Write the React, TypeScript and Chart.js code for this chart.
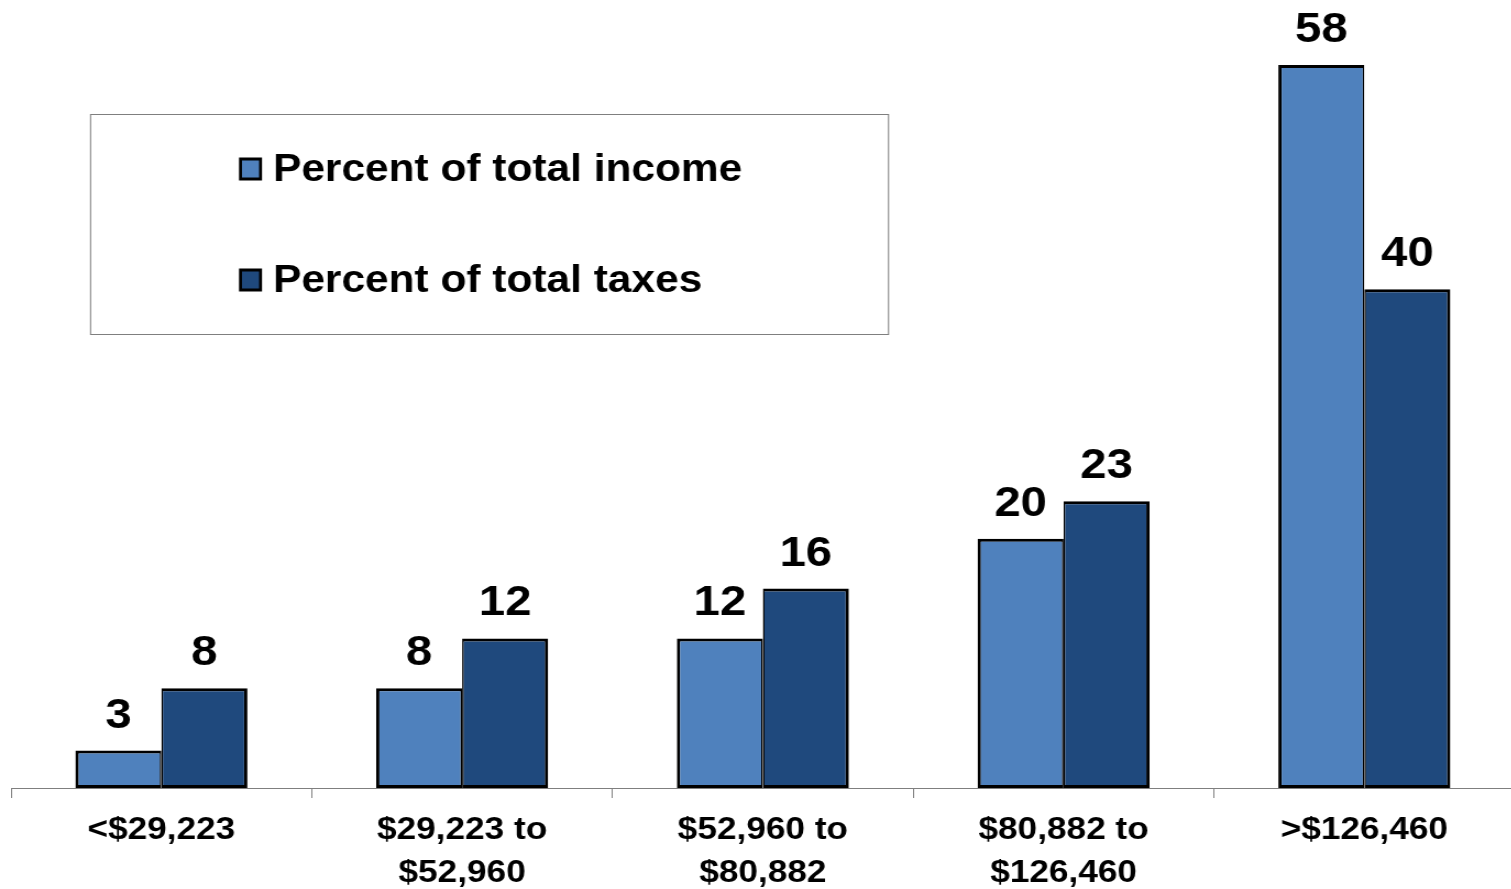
import React, { useEffect, useRef } from "react";
import { Chart, registerables } from "chart.js";

Chart.register(...registerables);

const categories: string[][] = [
  ["<$29,223"],
  ["$29,223 to", "$52,960"],
  ["$52,960 to", "$80,882"],
  ["$80,882 to", "$126,460"],
  [">$126,460"],
];
const incomeShare = [3, 8, 12, 20, 58];
const taxShare = [8, 12, 16, 23, 40];
const seriesNames = ["Percent of total income", "Percent of total taxes"];
const seriesColors = ["#4F81BD", "#1F497D"];

const FONT = "'Liberation Sans', Arial, sans-serif";
const SX = 1.1; // horizontal stretch of the original rendering
const CANVAS_W = 1390;
const CANVAS_H = 889;

const overlayPlugin = {
  id: "overlay",
  afterDatasetsDraw(chart: any) {
    const ctx = chart.ctx as CanvasRenderingContext2D;
    ctx.save();
    // value labels
    ctx.fillStyle = "#000";
    ctx.font = `bold 43px ${FONT}`;
    ctx.textAlign = "center";
    ctx.textBaseline = "alphabetic";
    chart.data.datasets.forEach((ds: any, di: number) => {
      const meta = chart.getDatasetMeta(di);
      meta.data.forEach((el: any, i: number) => {
        ctx.fillText(String(ds.data[i]), el.x, el.y - 23);
      });
    });
    // legend box
    const bx = 90 / SX;
    const bw = (888 - 90) / SX;
    const by = 114;
    const bh = 220;
    ctx.strokeStyle = "#7f7f7f";
    ctx.lineWidth = 1;
    ctx.strokeRect(bx + 0.5, by + 0.5, bw, bh);
    const rows = [169, 280];
    chart.data.datasets.forEach((ds: any, di: number) => {
      const cy = rows[di];
      const sx = 239 / SX;
      const sw = 23 / SX;
      const sh = 23;
      ctx.fillStyle = "#000";
      ctx.fillRect(sx, cy - sh / 2, sw, sh);
      ctx.fillStyle = ds.backgroundColor;
      ctx.fillRect(sx + 2.7, cy - sh / 2 + 3, sw - 5.4, sh - 6);
      ctx.fillStyle = "#000";
      ctx.font = `bold 38.6px ${FONT}`;
      ctx.textAlign = "left";
      ctx.textBaseline = "middle";
      ctx.fillText(ds.label, 273 / SX, cy + 1);
    });
    ctx.restore();
  },
};

export default function App() {
  const ref = useRef<HTMLCanvasElement | null>(null);

  useEffect(() => {
    if (!ref.current) return;
    const chart = new Chart(ref.current, {
      type: "bar",
      data: {
        labels: categories,
        datasets: [
          {
            label: seriesNames[0],
            data: incomeShare,
            backgroundColor: seriesColors[0],
            borderColor: "#000",
            borderWidth: { top: 3, left: 3, bottom: 3, right: 1.5 },
            borderSkipped: false,
            categoryPercentage: 0.572,
            barPercentage: 1,
          },
          {
            label: seriesNames[1],
            data: taxShare,
            backgroundColor: seriesColors[1],
            borderColor: "#000",
            borderWidth: { top: 3, left: 1.5, bottom: 3, right: 3 },
            borderSkipped: false,
            categoryPercentage: 0.572,
            barPercentage: 1,
          },
        ],
      },
      options: {
        responsive: false,
        maintainAspectRatio: false,
        animation: false,
        layout: { padding: { left: 10, right: 13, top: 40, bottom: 0 } },
        plugins: {
          legend: { display: false },
          tooltip: { enabled: false },
        },
        scales: {
          x: {
            offset: true,
            grid: {
              display: true,
              drawOnChartArea: false,
              drawTicks: true,
              tickLength: 10,
              color: "#7f7f7f",
              lineWidth: 1,
              offset: true,
            },
            border: { display: true, color: "#7f7f7f", width: 1 },
            ticks: {
              color: "#000",
              font: { family: FONT, size: 32, weight: "bold", lineHeight: 42.5 / 32 },
              padding: 11,
              maxRotation: 0,
              minRotation: 0,
              autoSkip: false,
            },
            afterFit: (s: any) => {
              s.height = 101;
            },
          },
          y: {
            display: false,
            min: 0,
            max: 60,
          },
        },
      },
      plugins: [overlayPlugin],
    } as any);
    return () => chart.destroy();
  }, []);

  return (
    <div
      style={{
        position: "fixed",
        left: 0,
        top: 0,
        width: 1511,
        height: 889,
        overflow: "hidden",
        background: "#fff",
      }}
    >
      <canvas
        ref={ref}
        width={CANVAS_W}
        height={CANVAS_H}
        style={{
          display: "block",
          width: CANVAS_W,
          height: CANVAS_H,
          transform: `scaleX(${SX})`,
          transformOrigin: "0 0",
        }}
      />
    </div>
  );
}
